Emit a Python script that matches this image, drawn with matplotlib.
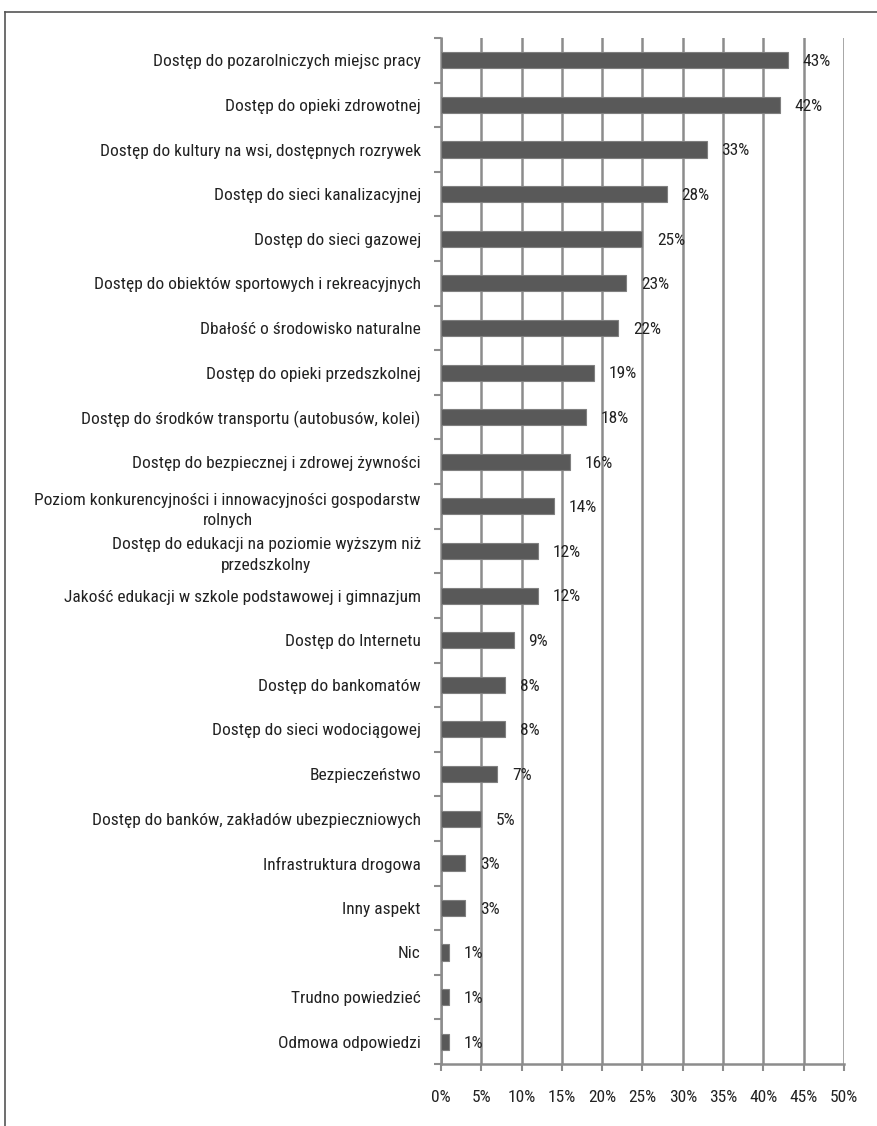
import matplotlib.pyplot as plt
from matplotlib.lines import Line2D
from matplotlib.ticker import FixedLocator, FuncFormatter
import numpy as np

# aspects and share of answers (%)
categories = [
    "Dostęp do pozarolniczych miejsc pracy",
    "Dostęp do opieki zdrowotnej",
    "Dostęp do kultury na wsi, dostępnych rozrywek",
    "Dostęp do sieci kanalizacyjnej",
    "Dostęp do sieci gazowej",
    "Dostęp do obiektów sportowych i rekreacyjnych",
    "Dbałość o środowisko naturalne",
    "Dostęp do opieki przedszkolnej",
    "Dostęp do środków transportu (autobusów, kolei)",
    "Dostęp do bezpiecznej i zdrowej żywności",
    "Poziom konkurencyjności i innowacyjności gospodarstw\nrolnych",
    "Dostęp do edukacji na poziomie wyższym niż\nprzedszkolny",
    "Jakość edukacji w szkole podstawowej i gimnazjum",
    "Dostęp do Internetu",
    "Dostęp do bankomatów",
    "Dostęp do sieci wodociągowej",
    "Bezpieczeństwo",
    "Dostęp do banków, zakładów ubezpieczniowych",
    "Infrastruktura drogowa",
    "Inny aspekt",
    "Nic",
    "Trudno powiedzieć",
    "Odmowa odpowiedzi",
]
values = [43, 42, 33, 28, 25, 23, 22, 19, 18, 16, 14, 12, 12, 9, 8, 8, 7, 5, 3, 3, 1, 1, 1]
xticks = [0, 5, 10, 15, 20, 25, 30, 35, 40, 45, 50]

plt.rcParams['font.family'] = ['Roboto Condensed', 'DejaVu Sans']
fs = 12.5
txt_col = '#222222'

fig = plt.figure(figsize=(8.78, 11.26), dpi=100)
ax = fig.add_axes([441 / 878, 1 - 1064 / 1126, 403 / 878, (1064 - 38) / 1126])

grid_col = '#8c8c8c'
n = len(categories)
y = np.arange(n)
ax.barh(y, values, height=0.36, color='#595959', edgecolor='#7f7f7f', linewidth=0.8, zorder=3)

for yi, v in zip(y, values):
    ax.annotate(f'{v}%', (v, yi), xytext=(10.5, -1), textcoords='offset points',
                va='center', ha='left', fontsize=fs, color=txt_col, zorder=4)

ax.set_xlim(0, 50)
ax.set_ylim(n - 0.5, -0.5)
ax.set_xticks(xticks)
ax.xaxis.set_major_formatter(FuncFormatter(lambda v, p: f'{v:.0f}%'))
ax.set_yticks(y)
ax.set_yticklabels(categories)
ax.yaxis.set_minor_locator(FixedLocator(np.arange(-0.5, n, 1.0)))
for lab in ax.get_yticklabels():
    lab.set_multialignment('center')
    lab.set_linespacing(1.45)

ax.tick_params(axis='y', which='major', length=0, pad=14.5, labelsize=fs, labelcolor=txt_col)
ax.tick_params(axis='y', which='minor', length=5, width=1.5, color=grid_col)
ax.tick_params(axis='x', which='major', length=5, width=1.5, color=grid_col, pad=14,
               labelsize=fs, labelcolor=txt_col)

ax.grid(axis='x', color=grid_col, linewidth=1.8, zorder=0)
for side in ['top', 'right']:
    ax.spines[side].set_visible(False)
for side in ['left', 'bottom']:
    ax.spines[side].set_color(grid_col)
    ax.spines[side].set_linewidth(1.8)

# outer frame of the original (top and left edges)
fig.add_artist(Line2D([5 / 878, 5 / 878], [0, 1 - 12 / 1126], color='#555555', linewidth=1.2,
                      transform=fig.transFigure))
fig.add_artist(Line2D([5 / 878, 1], [1 - 12 / 1126, 1 - 12 / 1126], color='#555555', linewidth=1.2,
                      transform=fig.transFigure))

fig.savefig('out.png', dpi=100)
